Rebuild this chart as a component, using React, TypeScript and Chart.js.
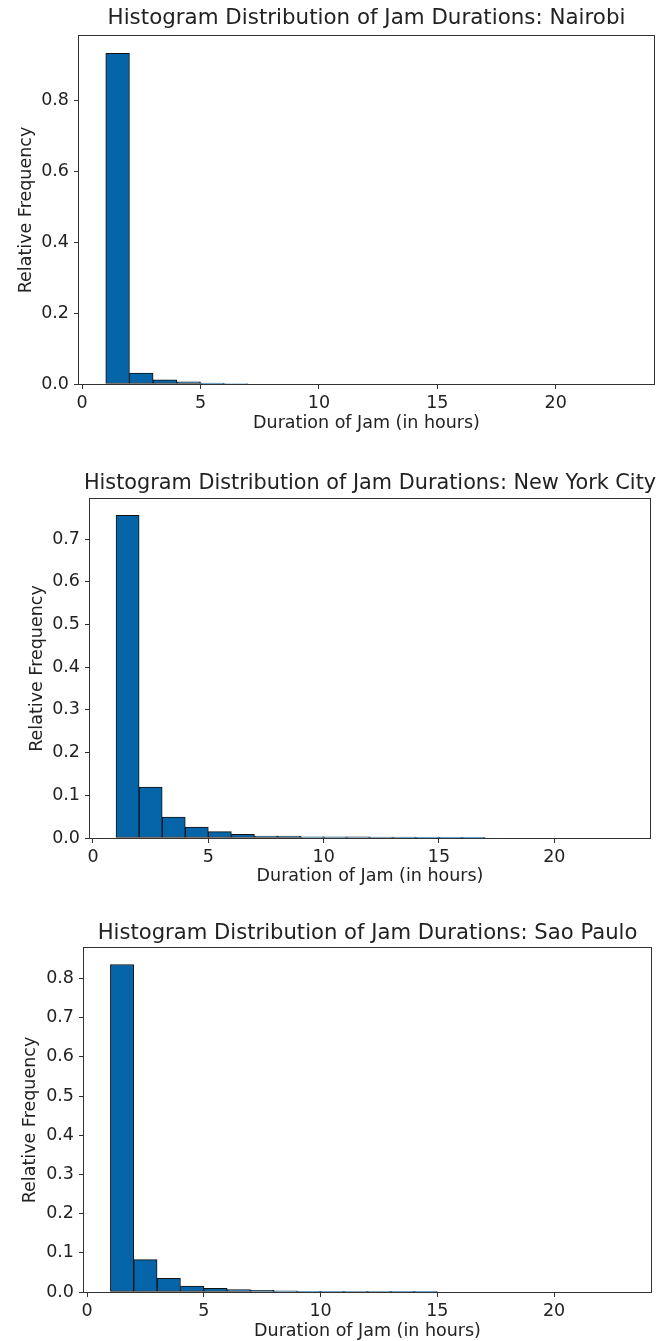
import React, { useEffect, useRef } from "react";
import { Chart, registerables } from "chart.js";

Chart.register(...registerables);

// ---- Data ----
const xTickValues = [0, 5, 10, 15, 20];

const nairobiBinStarts = [1, 2, 3, 4, 5, 6];
const nairobiFreq = [0.932, 0.031, 0.012, 0.0058, 0.0025, 0.0015];
const nairobiYTicks = [0, 0.2, 0.4, 0.6, 0.8];

const nycBinStarts = [1, 2, 3, 4, 5, 6, 7, 8, 9, 10, 11, 12, 13, 14, 15, 16];
const nycFreq = [0.756, 0.1195, 0.049, 0.0258, 0.0148, 0.0084, 0.0047, 0.0045, 0.003, 0.0028, 0.0025, 0.0022, 0.002, 0.0018, 0.0015, 0.0015];
const nycYTicks = [0, 0.1, 0.2, 0.3, 0.4, 0.5, 0.6, 0.7];

const saoBinStarts = [1, 2, 3, 4, 5, 6, 7, 8, 9, 10, 11, 12, 13, 14];
const saoFreq = [0.836, 0.0826, 0.035, 0.0153, 0.0094, 0.006, 0.004, 0.003, 0.002, 0.002, 0.0015, 0.0015, 0.001, 0.001];
const saoYTicks = [0, 0.1, 0.2, 0.3, 0.4, 0.5, 0.6, 0.7, 0.8];

const titles = [
  "Histogram Distribution of Jam Durations: Nairobi",
  "Histogram Distribution of Jam Durations: New York City",
  "Histogram Distribution of Jam Durations: Sao Paulo",
];
const xAxisTitle = "Duration of Jam (in hours)";
const yAxisTitle = "Relative Frequency";

const X_MIN = -0.13;
const X_MAX = 24.15;

const W = 672;
const H = 447;
const FONT = "'DejaVu Sans', 'Noto Sans', sans-serif";
const TEXT = "#222";
const LINE = "#333";
const BAR = "#0565a8";

type Panel = {
  title: string;
  titleSize: number;
  bins: number[];
  freq: number[];
  yTicks: number[];
  yMax: number;
  left: number;
  right: number;
  top: number;
  bottom: number;
  titleCenter: number;
  yTitleCenter: number;
  xTitleCenter: number;
};

const panels: Panel[] = [
  { title: titles[0], titleSize: 21.4, bins: nairobiBinStarts, freq: nairobiFreq, yTicks: nairobiYTicks, yMax: 0.981,
    left: 79, right: 654, top: 36, bottom: 384, titleCenter: 18, yTitleCenter: 26, xTitleCenter: 423.3 },
  { title: titles[1], titleSize: 20.8, bins: nycBinStarts, freq: nycFreq, yTicks: nycYTicks, yMax: 0.794,
    left: 90, right: 650, top: 52, bottom: 391, titleCenter: 36.3, yTitleCenter: 37, xTitleCenter: 429.7 },
  { title: titles[2], titleSize: 21.15, bins: saoBinStarts, freq: saoFreq, yTicks: saoYTicks, yMax: 0.878,
    left: 84, right: 651, top: 54, bottom: 398, titleCenter: 40, yTitleCenter: 30, xTitleCenter: 437.7 },
];

const boxPlugin = {
  id: "boxFrame",
  afterLayout(chart: any) {
    // let the title overhang the plot box a little (as in the reference) instead of squeezing it
    const tb = chart.titleBlock;
    if (tb) {
      tb.left -= 60;
      tb.right += 60;
      tb.width = tb.right - tb.left;
    }
  },
  afterDatasetsDraw(chart: any) {
    const { ctx, chartArea } = chart;
    ctx.save();
    ctx.strokeStyle = LINE;
    ctx.lineWidth = 1;
    ctx.strokeRect(
      Math.round(chartArea.left) - 0.5,
      Math.round(chartArea.top) - 0.5,
      Math.round(chartArea.right - chartArea.left) + 1,
      Math.round(chartArea.bottom - chartArea.top) + 1
    );
    ctx.restore();
  },
};

function HistPanel({ p }: { p: Panel }) {
  const ref = useRef<HTMLCanvasElement | null>(null);
  useEffect(() => {
    if (!ref.current) return;
    const titleSize = p.titleSize;
    const labelSize = 17.5;
    const tickSize = 17.5;
    const chart = new Chart(ref.current, {
      type: "bar",
      data: {
        datasets: [
          {
            data: p.bins.map((b, i) => ({ x: b + 0.5, y: p.freq[i] })),
            backgroundColor: BAR,
            borderColor: "#111",
            borderWidth: 1,
            borderSkipped: false,
            barPercentage: 1,
            categoryPercentage: 1,
          } as any,
        ],
      },
      options: {
        responsive: false,
        animation: false,
        devicePixelRatio: 1,
        layout: { padding: { left: 0, top: 0, bottom: 0, right: W - p.right } },
        plugins: {
          legend: { display: false },
          tooltip: { enabled: false },
          title: {
            display: true,
            text: p.title,
            color: TEXT,
            fullSize: false,
            font: { family: FONT, size: titleSize, weight: "normal", lineHeight: 1 },
            padding: {
              top: p.titleCenter - titleSize / 2,
              bottom: p.top - p.titleCenter - titleSize / 2,
            },
          },
        },
        scales: {
          x: {
            type: "linear",
            min: X_MIN,
            max: X_MAX,
            offset: false,
            afterBuildTicks: (s: any) => {
              s.ticks = xTickValues.map((v) => ({ value: v }));
            },
            afterFit: (s: any) => {
              s.height = H - p.bottom;
            },
            grid: { display: true, offset: false, drawOnChartArea: false, drawTicks: true, tickLength: 5, color: LINE },
            border: { display: false },
            ticks: {
              color: TEXT,
              padding: 4,
              maxRotation: 0,
              autoSkip: false,
              font: { family: FONT, size: tickSize },
              callback: (v: any) => String(v),
            },
            title: {
              display: true,
              text: xAxisTitle,
              color: TEXT,
              font: { family: FONT, size: labelSize, lineHeight: 1 },
              padding: { top: 0, bottom: H - p.xTitleCenter - labelSize / 2 },
            },
          },
          y: {
            type: "linear",
            min: 0,
            max: p.yMax,
            afterBuildTicks: (s: any) => {
              s.ticks = p.yTicks.map((v) => ({ value: v }));
            },
            afterFit: (s: any) => {
              s.width = p.left;
            },
            grid: { display: true, offset: false, drawOnChartArea: false, drawTicks: true, tickLength: 5, color: LINE },
            border: { display: false },
            ticks: {
              color: TEXT,
              padding: 5,
              autoSkip: false,
              font: { family: FONT, size: tickSize },
              callback: (v: any) => Number(v).toFixed(1),
            },
            title: {
              display: true,
              text: yAxisTitle,
              color: TEXT,
              font: { family: FONT, size: labelSize, lineHeight: 1 },
              padding: { top: p.yTitleCenter - labelSize / 2, bottom: 0 },
            },
          },
        },
      },
      plugins: [boxPlugin],
    });
    return () => chart.destroy();
  }, [p]);
  return <canvas ref={ref} width={W} height={H} style={{ display: "block", width: W, height: H }} />;
}

export default function App() {
  return (
    <div style={{ position: "absolute", left: 0, top: 0, width: W, height: 1341, background: "#fff", overflow: "hidden" }}>
      {panels.map((p, i) => (
        <div key={i} style={{ position: "absolute", left: 0, top: i * H, width: W, height: H }}>
          <HistPanel p={p} />
        </div>
      ))}
    </div>
  );
}
